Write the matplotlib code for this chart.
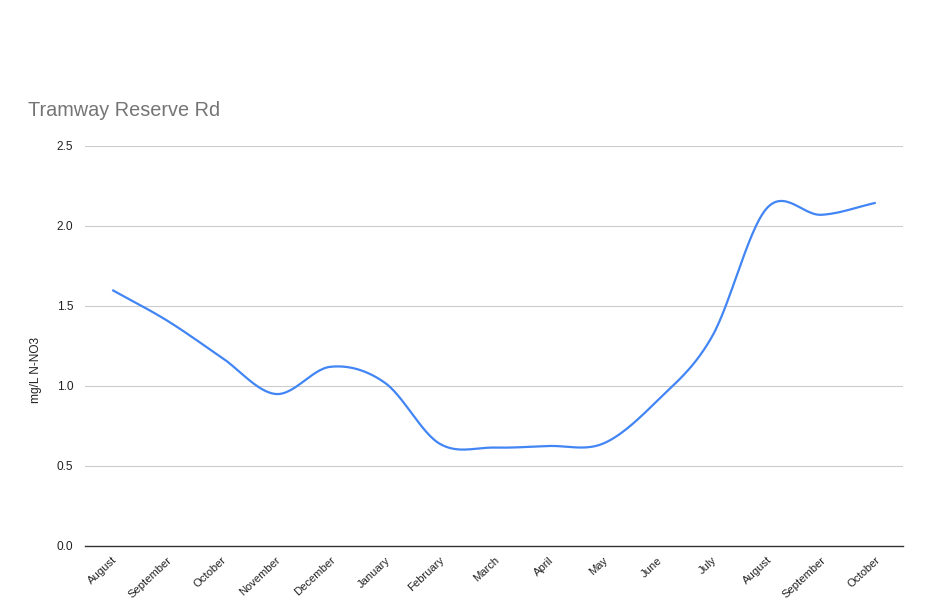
import matplotlib
matplotlib.use("Agg")
import matplotlib.pyplot as plt
import numpy as np

months = ["August", "September", "October", "November", "December", "January",
          "February", "March", "April", "May", "June", "July",
          "August", "September", "October"]
nitrate = [1.60, 1.41, 1.18, 0.95, 1.12, 1.02, 0.64, 0.615, 0.625, 0.64,
           0.91, 1.31, 2.11, 2.07, 2.145]
yticks = [0.0, 0.5, 1.0, 1.5, 2.0, 2.5]

LINE = "#4285f4"
GRID = "#cccccc"
TEXT = "#222222"
TITLE = "#757575"


def smooth(x, y, n=30):
    # cardinal (catmull-rom) spline through the points, like the smooth line option
    x = np.asarray(x, float)
    y = np.asarray(y, float)
    m = np.zeros_like(y)
    m[1:-1] = (y[2:] - y[:-2]) / 2
    m[0] = y[1] - y[0]
    m[-1] = y[-1] - y[-2]
    xs, ys = [], []
    t = np.linspace(0, 1, n, endpoint=False)
    for i in range(len(x) - 1):
        h00 = 2 * t**3 - 3 * t**2 + 1
        h10 = t**3 - 2 * t**2 + t
        h01 = -2 * t**3 + 3 * t**2
        h11 = t**3 - t**2
        xs.append(x[i] + t * (x[i + 1] - x[i]))
        ys.append(h00 * y[i] + h10 * m[i] + h01 * y[i + 1] + h11 * m[i + 1])
    xs.append([x[-1]])
    ys.append([y[-1]])
    return np.concatenate(xs), np.concatenate(ys)


plt.rcParams["font.family"] = ["Liberation Sans", "DejaVu Sans"]

fig = plt.figure(figsize=(9.35, 6.0), dpi=100)
ax = fig.add_axes([85 / 935, 1 - 546 / 600, 818 / 935, 400 / 600])

xpos = np.arange(len(months))
sx, sy = smooth(xpos, nitrate)
ax.plot(sx, sy, color=LINE, lw=1.6, solid_capstyle="butt", zorder=3)

ax.set_xlim(-0.5, len(months) - 0.5)
ax.set_ylim(0, 2.5)
ax.set_yticks(yticks)
ax.set_yticklabels([f"{v:.1f}" for v in yticks])
ax.set_xticks(xpos)
ax.set_xticklabels(months, rotation=43, ha="right", va="top",
                   rotation_mode="anchor", fontsize=8.1)
ax.tick_params(axis="both", length=0, colors=TEXT)
ax.tick_params(axis="y", pad=8.5, labelsize=8.6)
ax.tick_params(axis="x", pad=6.5)

ax.grid(axis="y", color=GRID, lw=0.8)
ax.set_axisbelow(True)
for s in ["top", "right", "left"]:
    ax.spines[s].set_visible(False)
ax.spines["bottom"].set_color("#333333")
ax.spines["bottom"].set_linewidth(1.0)
ax.spines["bottom"].set_zorder(4)

fig.text(35.5 / 935, 1 - 370 / 600, "mg/L N-NO3", color=TEXT, fontsize=8.6,
         rotation=90, ha="center", va="center")

fig.text(28 / 935, 1 - 110 / 600, "Tramway Reserve Rd", color=TITLE,
         fontsize=14.3, va="center", ha="left")

fig.savefig("out.png", dpi=100, facecolor="white")
